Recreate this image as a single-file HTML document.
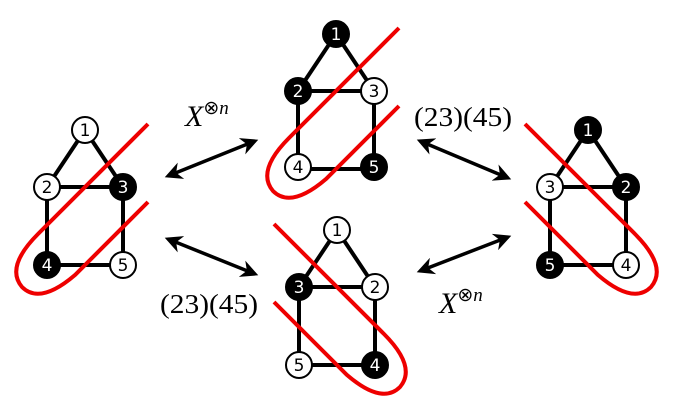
<!DOCTYPE html>
<html><head><style>html,body{margin:0;padding:0;background:#fff}svg{display:block}</style></head>
<body>
<svg width="677" height="407" viewBox="0 0 677 407" xmlns="http://www.w3.org/2000/svg">
<defs>
<marker id="ah" viewBox="0 0 10 10" refX="8" refY="5" markerWidth="5" markerHeight="5" orient="auto-start-reverse">
<path d="M0,0 L10,5 L0,10 L3,5 z" fill="#000"/>
</marker>
<g id="edges" stroke="#000" stroke-width="4" fill="none">
<path d="M0,-57 L-38,0 M0,-57 L38,0 M-38,0 L38,0 M-38,0 L-38,78 L38,78 L38,0"/>
</g>
<path id="loop" d="M63,-63 L-47,47 Q-80,80 -63,100 Q-45,118 -10,88 L63,15" stroke="#e00" stroke-width="4" fill="none"/>
</defs>
<g font-family="DejaVu Sans, sans-serif" font-size="17" text-anchor="middle">
<g transform="translate(85,187)">
<use href="#edges"/><use href="#loop"/>
<circle cx="0" cy="-57" r="13" fill="#fff" stroke="#000" stroke-width="2"/><text x="0" y="-51">1</text>
<circle cx="-38" cy="0" r="13" fill="#fff" stroke="#000" stroke-width="2"/><text x="-38" y="6">2</text>
<circle cx="38" cy="0" r="13" fill="#000" stroke="#000" stroke-width="2"/><text x="38" y="6" fill="#fff">3</text>
<circle cx="-38" cy="78" r="13" fill="#000" stroke="#000" stroke-width="2"/><text x="-38" y="84" fill="#fff">4</text>
<circle cx="38" cy="78" r="13" fill="#fff" stroke="#000" stroke-width="2"/><text x="38" y="84">5</text>
</g>
<g transform="translate(336,91)">
<use href="#edges"/><use href="#loop"/>
<circle cx="0" cy="-57" r="13" fill="#000" stroke="#000" stroke-width="2"/><text x="0" y="-51" fill="#fff">1</text>
<circle cx="-38" cy="0" r="13" fill="#000" stroke="#000" stroke-width="2"/><text x="-38" y="6" fill="#fff">2</text>
<circle cx="38" cy="0" r="13" fill="#fff" stroke="#000" stroke-width="2"/><text x="38" y="6">3</text>
<circle cx="-38" cy="76" r="13" fill="#fff" stroke="#000" stroke-width="2"/><text x="-38" y="82">4</text>
<circle cx="38" cy="76" r="13" fill="#000" stroke="#000" stroke-width="2"/><text x="38" y="82" fill="#fff">5</text>
</g>
<g transform="translate(588,187)">
<use href="#edges"/><use href="#loop" transform="scale(-1,1)"/>
<circle cx="0" cy="-57" r="13" fill="#000" stroke="#000" stroke-width="2"/><text x="0" y="-51" fill="#fff">1</text>
<circle cx="-38" cy="0" r="13" fill="#fff" stroke="#000" stroke-width="2"/><text x="-38" y="6">3</text>
<circle cx="38" cy="0" r="13" fill="#000" stroke="#000" stroke-width="2"/><text x="38" y="6" fill="#fff">2</text>
<circle cx="-38" cy="78" r="13" fill="#000" stroke="#000" stroke-width="2"/><text x="-38" y="84" fill="#fff">5</text>
<circle cx="38" cy="78" r="13" fill="#fff" stroke="#000" stroke-width="2"/><text x="38" y="84">4</text>
</g>
<g transform="translate(337,287)">
<use href="#edges"/><use href="#loop" transform="scale(-1,1)"/>
<circle cx="0" cy="-57" r="13" fill="#fff" stroke="#000" stroke-width="2"/><text x="0" y="-51">1</text>
<circle cx="-38" cy="0" r="13" fill="#000" stroke="#000" stroke-width="2"/><text x="-38" y="6" fill="#fff">3</text>
<circle cx="38" cy="0" r="13" fill="#fff" stroke="#000" stroke-width="2"/><text x="38" y="6">2</text>
<circle cx="-38" cy="78" r="13" fill="#fff" stroke="#000" stroke-width="2"/><text x="-38" y="84">5</text>
<circle cx="38" cy="78" r="13" fill="#000" stroke="#000" stroke-width="2"/><text x="38" y="84" fill="#fff">4</text>
</g>
</g>
<g stroke="#000" stroke-width="3.5">
<line x1="168" y1="176" x2="255" y2="141" marker-start="url(#ah)" marker-end="url(#ah)"/>
<line x1="168" y1="239" x2="255" y2="274" marker-start="url(#ah)" marker-end="url(#ah)"/>
<line x1="420" y1="141" x2="508" y2="178" marker-start="url(#ah)" marker-end="url(#ah)"/>
<line x1="420" y1="271" x2="508" y2="237" marker-start="url(#ah)" marker-end="url(#ah)"/>
</g>
<g font-family="Liberation Serif, serif" font-size="27">
<text x="185" y="126" font-size="30"><tspan font-style="italic">X</tspan><tspan font-size="19" dy="-12">⊗<tspan font-style="italic">n</tspan></tspan></text>
<text x="414" y="126" textLength="98" lengthAdjust="spacingAndGlyphs">(23)(45)</text>
<text x="160" y="313" textLength="98" lengthAdjust="spacingAndGlyphs">(23)(45)</text>
<text x="439" y="313" font-size="30"><tspan font-style="italic">X</tspan><tspan font-size="19" dy="-12">⊗<tspan font-style="italic">n</tspan></tspan></text>
</g>
</svg>
</body></html>
